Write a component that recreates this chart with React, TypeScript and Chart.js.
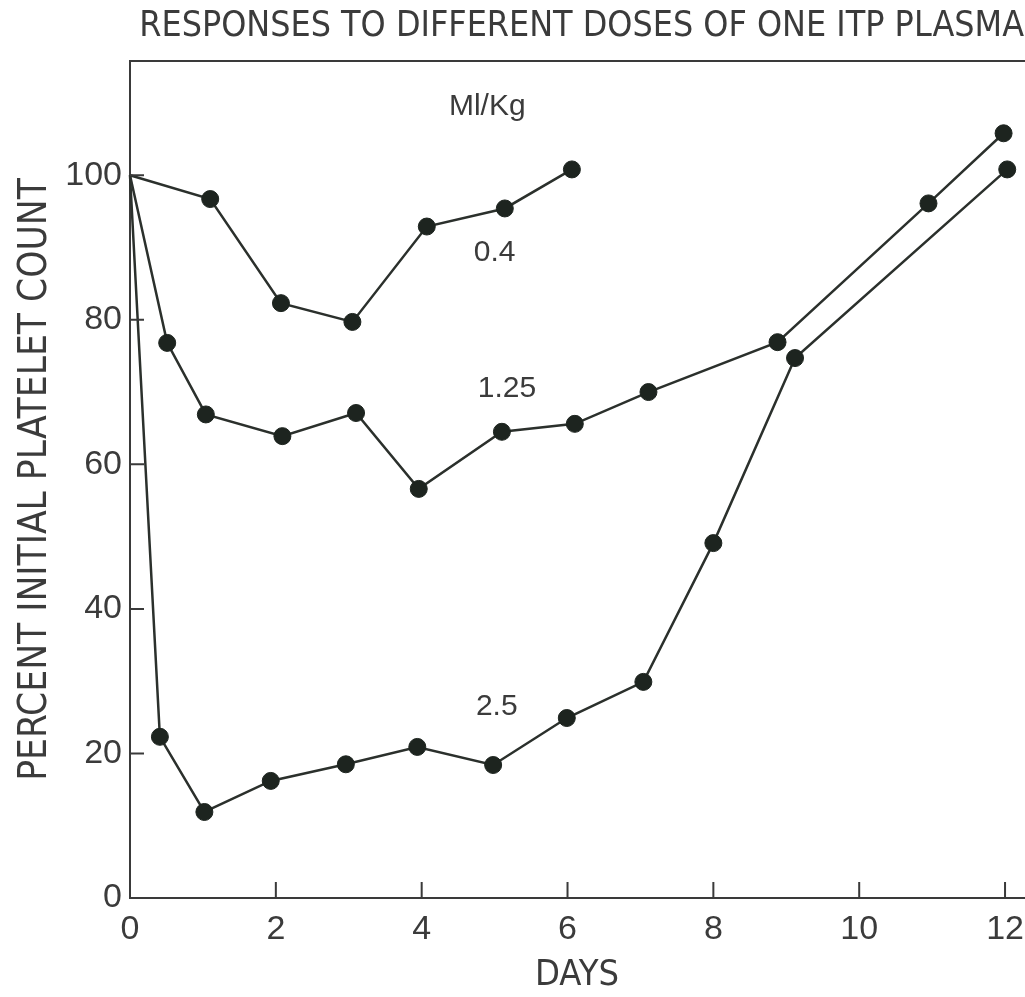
import React, { useEffect, useRef } from "react";
import { Chart, registerables } from "chart.js";

Chart.register(...registerables);

// ---- text ----
const TITLE = "RESPONSES TO DIFFERENT DOSES OF ONE ITP PLASMA";
const X_TITLE = "DAYS";
const Y_TITLE = "PERCENT INITIAL PLATELET COUNT";

// ---- axes ----
const X_MIN = 0;
const X_MAX = 12.26;
const X_STEP = 2;
const Y_MIN = 0;
const Y_MAX = 115.8;
const Y_STEP = 20;

// ---- series: dose 0.4 ml/kg ----
const dose04Days = [0, 1.1, 2.07, 3.05, 4.07, 5.14, 6.06];
const dose04Pct = [100, 96.7, 82.3, 79.7, 92.9, 95.4, 100.8];

// ---- series: dose 1.25 ml/kg ----
const dose125Days = [0, 0.51, 1.04, 2.09, 3.1, 3.96, 5.1, 6.1, 7.11, 8.88, 10.95, 11.98];
const dose125Pct = [100, 76.8, 66.9, 63.9, 67.1, 56.6, 64.5, 65.6, 70.0, 76.9, 96.1, 105.8];

// ---- series: dose 2.5 ml/kg ----
const dose25Days = [0, 0.41, 1.02, 1.93, 2.96, 3.94, 4.98, 5.99, 7.04, 8.0, 9.12, 12.03];
const dose25Pct = [100, 22.3, 11.9, 16.2, 18.5, 20.9, 18.4, 24.9, 29.9, 49.1, 74.7, 100.8];

// ---- in-plot labels ----
const noteTexts = ["Ml/Kg", "0.4", "1.25", "2.5"];
const noteDays = [4.9, 5.0, 5.17, 5.03];
const notePct = [109.5, 89.3, 70.5, 26.4];

const LINE_COLOR = "#2b302c";
const POINT_COLOR = "#1d241f";
const AXIS_COLOR = "#3a3a3a";
const TEXT_COLOR = "#3b3b3b";
const COND_FONT = "'DejaVu Sans Condensed', 'Liberation Sans Narrow', sans-serif";
const NUM_FONT = "'Liberation Sans', Arial, sans-serif";

function toPoints(xs: number[], ys: number[]) {
  return xs.map((x, i) => ({ x, y: ys[i] }));
}

function makeDataset(label: string, xs: number[], ys: number[]) {
  return {
    label,
    data: toPoints(xs, ys),
    borderColor: LINE_COLOR,
    borderWidth: 2.5,
    backgroundColor: POINT_COLOR,
    pointBackgroundColor: POINT_COLOR,
    pointBorderColor: POINT_COLOR,
    pointBorderWidth: 1,
    pointRadius: xs.map((_, i) => (i === 0 ? 0 : 8.5)),
    pointHoverRadius: xs.map((_, i) => (i === 0 ? 0 : 8.5)),
    tension: 0,
    fill: false,
    clip: false as any,
  };
}

const decorPlugin = {
  id: "decor",
  afterDraw(chart: any) {
    const { ctx, chartArea: a } = chart;
    const xs = chart.scales.x;
    const ys = chart.scales.y;
    ctx.save();
    ctx.strokeStyle = AXIS_COLOR;
    ctx.lineWidth = 2;
    ctx.beginPath();
    ctx.moveTo(a.left - 1, a.top);
    ctx.lineTo(chart.width, a.top);
    ys.ticks.forEach((t: any) => {
      if (t.value === Y_MIN) return;
      const py = ys.getPixelForValue(t.value);
      ctx.moveTo(a.left, py);
      ctx.lineTo(a.left + 14, py);
    });
    xs.ticks.forEach((t: any) => {
      if (t.value === X_MIN) return;
      const px = xs.getPixelForValue(t.value);
      ctx.moveTo(px, a.bottom);
      ctx.lineTo(px, a.bottom - 16);
    });
    ctx.stroke();

    ctx.fillStyle = TEXT_COLOR;
    ctx.font = `30px ${NUM_FONT}`;
    ctx.textAlign = "center";
    ctx.textBaseline = "middle";
    noteTexts.forEach((s, i) => {
      ctx.fillText(s, xs.getPixelForValue(noteDays[i]), ys.getPixelForValue(notePct[i]));
    });
    ctx.restore();
  },
};

export default function App() {
  const ref = useRef<HTMLCanvasElement | null>(null);

  useEffect(() => {
    const canvas = ref.current;
    if (!canvas) return;
    const chart = new Chart(canvas, {
      type: "line",
      data: {
        datasets: [
          makeDataset("0.4", dose04Days, dose04Pct),
          makeDataset("1.25", dose125Days, dose125Pct),
          makeDataset("2.5", dose25Days, dose25Pct),
        ],
      },
      options: {
        animation: false,
        responsive: false,
        maintainAspectRatio: false,
        layout: { autoPadding: false, padding: { left: 0, right: 1, top: 0, bottom: 0 } },
        plugins: {
          legend: { display: false },
          tooltip: { enabled: false },
          title: {
            display: true,
            text: TITLE,
            align: "end",
            color: TEXT_COLOR,
            font: { family: COND_FONT, size: 35.5, weight: "normal" },
            padding: { top: 5, bottom: 13.4 },
          },
        },
        scales: {
          x: {
            type: "linear",
            min: X_MIN,
            max: X_MAX,
            grid: { display: false, drawTicks: false },
            border: { display: true, color: AXIS_COLOR, width: 2 },
            ticks: {
              stepSize: X_STEP,
              includeBounds: false,
              autoSkip: false,
              maxRotation: 0,
              padding: 11,
              color: TEXT_COLOR,
              font: { family: NUM_FONT, size: 34 },
            },
            title: {
              display: true,
              text: X_TITLE,
              color: TEXT_COLOR,
              font: { family: COND_FONT, size: 36 },
              padding: { top: 0, bottom: 0 },
            },
            afterFit: (s: any) => {
              s.height = 99;
              s.paddingLeft = 0;
              s.paddingRight = 0;
            },
          },
          y: {
            type: "linear",
            min: Y_MIN,
            max: Y_MAX,
            grid: { display: false, drawTicks: false },
            border: { display: true, color: AXIS_COLOR, width: 2 },
            ticks: {
              stepSize: Y_STEP,
              includeBounds: false,
              padding: 8,
              color: TEXT_COLOR,
              font: { family: NUM_FONT, size: 34 },
            },
            title: {
              display: true,
              text: Y_TITLE,
              color: TEXT_COLOR,
              font: { family: COND_FONT, size: 38.5 },
              padding: { top: 13, bottom: 0 },
            },
            afterFit: (s: any) => {
              s.width = 130;
              s.paddingTop = 0;
              s.paddingBottom = 0;
            },
          },
        },
      } as any,
      plugins: [decorPlugin],
    });
    return () => chart.destroy();
  }, []);

  return (
    <div
      style={{
        position: "fixed",
        left: 0,
        top: 0,
        width: 1025,
        height: 997,
        background: "#ffffff",
        overflow: "hidden",
      }}
    >
      <canvas ref={ref} width={1025} height={997} style={{ display: "block", width: 1025, height: 997 }} />
    </div>
  );
}
